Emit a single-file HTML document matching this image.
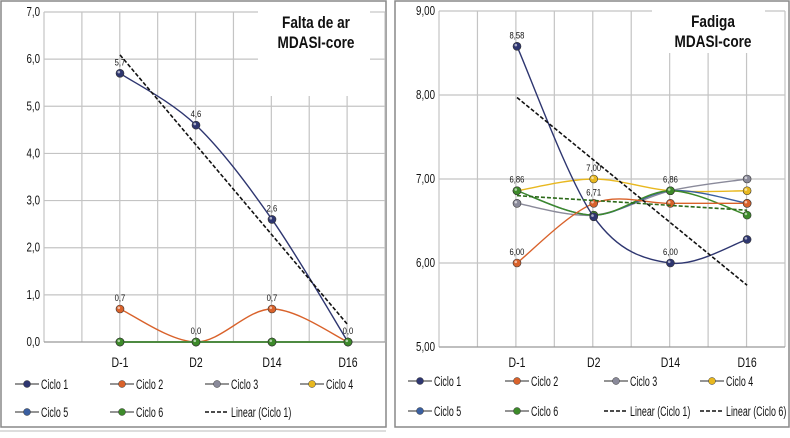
<!DOCTYPE html>
<html><head><meta charset="utf-8"><style>
body{margin:0;background:#fff;width:790px;height:433px;overflow:hidden;font-family:"Liberation Sans",sans-serif}
svg text{font-family:"Liberation Sans",sans-serif}
</style></head><body>
<svg id="s" width="790" height="433" xmlns="http://www.w3.org/2000/svg">
<rect x="1" y="1" width="385" height="426" fill="#fff" stroke="#888" stroke-width="1.5"/>
<rect x="395" y="1" width="394" height="426" fill="#fff" stroke="#888" stroke-width="1.5"/>
<line x1="0" y1="431" x2="386" y2="431" stroke="#bbb"/>
</svg>
<script>
const categories=["D-1","D2","D14","D16"];
const seriesNames=["Ciclo 1","Ciclo 2","Ciclo 3","Ciclo 4","Ciclo 5","Ciclo 6"];
const colors=["#2e3670","#d9622b","#8a8a9a","#e8b820","#3a5fa0","#3d8a2a"];
const leftC1=[5.7,4.6,2.6,0.0];
const leftC2=[0.7,0.0,0.7,0.0];
const leftC3=[0,0,0,0];
const leftC4=[0,0,0,0];
const leftC5=[0,0,0,0];
const leftC6=[0,0,0,0];
const leftTicks=["0,0","1,0","2,0","3,0","4,0","5,0","6,0","7,0"];
const rightC1=[8.58,6.55,6.00,6.28];
const rightC2=[6.00,6.71,6.71,6.71];
const rightC3=[6.71,6.57,6.86,7.00];
const rightC4=[6.86,7.00,6.86,6.86];
const rightC5=[6.86,6.57,6.86,6.71];
const rightC6=[6.86,6.57,6.86,6.57];
const rightTicks=["5,00","6,00","7,00","8,00","9,00"];

const svg=document.getElementById('s');
const NS="http://www.w3.org/2000/svg";
function mk(tag,attrs,parent){const e=document.createElementNS(NS,tag);for(const k in attrs)e.setAttribute(k,attrs[k]);(parent||svg).appendChild(e);return e;}
function linfit(v){const n=v.length,mx=(n-1)/2;const my=v.reduce((a,b)=>a+b)/n;let num=0,den=0;v.forEach((y,i)=>{num+=(i-mx)*(y-my);den+=(i-mx)*(i-mx);});const s=num/den;return [my-s*mx,my+s*(n-1-mx)];}
function smooth(pts){let d=`M${pts[0][0]},${pts[0][1]}`;for(let i=0;i<pts.length-1;i++){const p0=pts[i-1]||pts[i],p1=pts[i],p2=pts[i+1],p3=pts[i+2]||p2;const c1=[p1[0]+(p2[0]-p0[0])/6,p1[1]+(p2[1]-p0[1])/6],c2=[p2[0]-(p3[0]-p1[0])/6,p2[1]-(p3[1]-p1[1])/6];d+=` C${c1[0]},${c1[1]} ${c2[0]},${c2[1]} ${p2[0]},${p2[1]}`;}return d;}
function sq(x,s){return `translate(${x},0) scale(${s},1) translate(${-x},0)`;}

function chart(o){
  const g=mk('g',{});
  
  
  const y=v=>o.y0-(v-o.vmin)*(o.y0-o.y1)/(o.vmax-o.vmin);
  const x=i=>o.cx0+i*o.cstep;
  const nv=Math.round((o.xr-o.xl)/(o.cstep/2));
  for(let k=0;k<=nv;k++){const gx=o.xl+k*(o.xr-o.xl)/nv;const top=(gx>o.box[0]&&gx<o.box[2])?o.box[3]:o.y1;
    const l=mk('line',{x1:gx,y1:top,x2:gx,y2:o.y0,stroke:'#c4c4c4','stroke-width':1.2},g);
    }
  o.ticks.forEach((t,i)=>{const v=o.vmin+i*o.tstep;const gy=y(v);
    const inBox=gy>o.box[1]&&gy<o.box[3];
    if(inBox){mk('line',{x1:o.xl,y1:gy,x2:o.box[0],y2:gy,stroke:'#c4c4c4','stroke-width':1.2},g);mk('line',{x1:o.box[2],y1:gy,x2:o.xr,y2:gy,stroke:'#c4c4c4','stroke-width':1.2},g);}
    else{const l=mk('line',{x1:o.xl,y1:gy,x2:o.xr,y2:gy,stroke:i==0?'#999':'#c4c4c4','stroke-width':1.2},g);}
    const tx=mk('text',{x:o.xl-4,y:gy+4,'font-size':12.5,'text-anchor':'end',fill:'#111',transform:sq(o.xl-4,0.78)},g);
    tx.textContent=t;});
  categories.forEach((c,i)=>{const t=mk('text',{x:x(i),y:o.xlab,'font-size':13.5,'text-anchor':'middle',fill:'#111',transform:sq(x(i),0.78)},g);t.textContent=c;
    });
  const tt=mk('text',{x:o.tx,y:o.ty,'font-size':17,'font-weight':'bold','text-anchor':'middle',fill:'#111',transform:sq(o.tx,0.8)},g);
  tt.innerHTML=`<tspan x="${o.tx}" dy="0">${o.t1}</tspan><tspan x="${o.tx}" dy="20">MDASI-core</tspan>`;
  
  o.order.forEach(si=>{const vals=o.series[si];const pts=vals.map((v,i)=>[x(i),y(v)]);
    const p=mk('path',{d:smooth(pts),fill:'none',stroke:colors[si],'stroke-width':1.4},g);
    
    pts.forEach(pt=>{const c=mk('circle',{cx:pt[0],cy:pt[1],r:4,fill:colors[si],stroke:'#333','stroke-width':0.6},g);
      
      mk('circle',{cx:pt[0]-1.2,cy:pt[1]-1.2,r:1.3,fill:'#fff',opacity:0.6},g);});
  });
  o.trends.forEach(tr=>{const f=linfit(o.series[tr.s]);
    const l=mk('line',{x1:x(0),y1:y(f[0]),x2:x(3),y2:y(f[1]),stroke:tr.c,'stroke-width':1.6,'stroke-dasharray':'4,2'},g);
    });
  o.labels.forEach(lb=>{const v=o.series[lb.s][lb.i];const lx=x(lb.i);const t=mk('text',{x:lx,y:y(v)-8,'font-size':9,'text-anchor':'middle',fill:'#111',transform:sq(lx,0.85)},g);
    t.textContent=v.toFixed(o.dec).replace('.',',');});
  const items=seriesNames.map((n,i)=>({n,c:colors[i],dash:false})).concat(o.trends.map(tr=>({n:tr.n,c:tr.c,dash:true})));
  items.forEach((it,k)=>{const col=k%4,row=Math.floor(k/4);const lx=o.lx[col],ly=o.ly[row];
    const e=mk('g',{},g);
    mk('line',{x1:lx,y1:ly,x2:lx+24,y2:ly,stroke:it.dash?'#111':'#555','stroke-width':it.dash?1.5:1.2,'stroke-dasharray':it.dash?'4,2':''},e);
    if(!it.dash)mk('circle',{cx:lx+12,cy:ly,r:3.5,fill:it.c,stroke:'#333','stroke-width':0.5},e);
    const t=mk('text',{x:lx+26,y:ly+5,'font-size':13.5,fill:'#111',transform:sq(lx+26,0.66)},e);t.textContent=it.n;});
}
chart({name:'falta-de-ar-chart',xl:44,xr:385,y0:342,y1:12,vmin:0,vmax:7,tstep:1,ticks:leftTicks,cx0:120,cstep:76,
  box:[258,10,370,96],xlab:367,tx:316,ty:28,t1:'Falta de ar',
  series:[leftC1,leftC2,leftC3,leftC4,leftC5,leftC6],order:[0,1,2,3,4,5],
  trends:[{s:0,n:'Linear (Ciclo 1)',c:'#111'}],dec:1,
  labels:[{s:0,i:0},{s:0,i:1},{s:0,i:2},{s:0,i:3},{s:1,i:0},{s:1,i:1},{s:1,i:2}],
  lx:[15,110,205,300],ly:[384,412]});
chart({name:'fadiga-chart',xl:439,xr:785,y0:347,y1:11,vmin:5,vmax:9,tstep:1,ticks:rightTicks,cx0:517,cstep:76.7,
  box:[652,8,765,53],xlab:367,tx:713,ty:27,t1:'Fadiga',
  series:[rightC1,rightC2,rightC3,rightC4,rightC5,rightC6],order:[2,3,4,5,1,0],
  trends:[{s:0,n:'Linear (Ciclo 1)',c:'#111'},{s:5,n:'Linear (Ciclo 6)',c:'#2d6a1a'}],dec:2,
  labels:[{s:0,i:0},{s:3,i:0},{s:1,i:0},{s:3,i:1},{s:1,i:1},{s:3,i:2},{s:0,i:2}],
  lx:[408,505,604,700],ly:[381,411]});
</script>
</body></html>
